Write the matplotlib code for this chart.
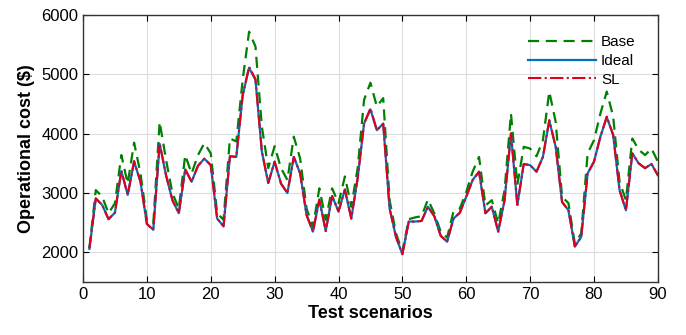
import matplotlib
matplotlib.use('Agg')
import matplotlib.pyplot as plt

plt.rcParams['font.family'] = ['Liberation Sans', 'DejaVu Sans']

scenarios = list(range(1, 91))

base = [2070, 3050, 2940, 2660, 2830, 3640, 3160, 3850, 3330, 2550,
        2480, 4200, 3560, 3000, 2740, 3640, 3330, 3640, 3840, 3670,
        2660, 2550, 3920, 3870, 4910, 5720, 5470, 4120, 3420, 3790,
        3420, 3220, 3950, 3580, 2740, 2430, 3080, 2550, 3080, 2830,
        3280, 2770, 3420, 4570, 4860, 4460, 4600, 2880, 2320, 2010,
        2560, 2590, 2610, 2890, 2660, 2350, 2250, 2690, 2740, 3020,
        3360, 3610, 2790, 2880, 2490, 3050, 4340, 3140, 3780, 3750,
        3620, 3890, 4710, 4200, 2940, 2830, 2150, 2320, 3670, 3890,
        4340, 4710, 4290, 3190, 2880, 3920, 3730, 3640, 3750, 3530]

ideal = [2060, 2910, 2800, 2560, 2670, 3370, 2970, 3530, 3190, 2480,
         2380, 3830, 3300, 2880, 2660, 3400, 3190, 3460, 3580, 3470,
         2570, 2440, 3620, 3610, 4650, 5110, 4910, 3700, 3170, 3530,
         3160, 3000, 3610, 3330, 2630, 2350, 2890, 2360, 2950, 2690,
         3060, 2570, 3250, 4170, 4410, 4060, 4170, 2740, 2260, 1970,
         2520, 2520, 2530, 2770, 2610, 2280, 2180, 2570, 2670, 2940,
         3220, 3360, 2660, 2770, 2350, 2880, 4000, 2800, 3490, 3470,
         3360, 3610, 4220, 3780, 2850, 2710, 2100, 2260, 3330, 3530,
         3950, 4280, 3980, 3050, 2710, 3670, 3500, 3420, 3490, 3300]

sl = [2070, 2910, 2800, 2560, 2670, 3380, 2970, 3540, 3190, 2480,
      2380, 3840, 3300, 2880, 2660, 3400, 3190, 3460, 3580, 3470,
      2570, 2440, 3620, 3610, 4650, 5130, 4920, 3700, 3170, 3530,
      3160, 3000, 3610, 3330, 2630, 2350, 2890, 2360, 2950, 2690,
      3060, 2570, 3250, 4170, 4430, 4060, 4170, 2740, 2260, 1970,
      2520, 2520, 2530, 2770, 2610, 2280, 2180, 2570, 2670, 2940,
      3220, 3360, 2660, 2770, 2350, 2880, 4010, 2800, 3490, 3470,
      3360, 3610, 4230, 3780, 2850, 2710, 2100, 2260, 3330, 3530,
      3950, 4290, 3980, 3050, 2710, 3670, 3500, 3420, 3490, 3300]

fig = plt.figure(figsize=(6.86, 3.35), dpi=100)
ax = fig.add_axes([0.121, 0.158, 0.838, 0.797])

ax.plot(scenarios, base, '--', color='#008000', lw=1.6, dashes=(5, 3), label='Base')
ax.plot(scenarios, ideal, '-', color='#0072BD', lw=1.6, label='Ideal')
ax.plot(scenarios, sl, '-.', color='#E0001B', lw=1.5, label='SL')

ax.set_xlim(0, 90)
ax.set_ylim(1500, 6000)
ax.set_xticks(range(0, 91, 10))
ax.set_yticks([2000, 3000, 4000, 5000, 6000])
ax.grid(True, color='#dcdcdc', lw=0.8)
ax.tick_params(direction='in', top=True, right=True, labelsize=12, length=4)
for s in ax.spines.values():
    s.set_color('#333333')
    s.set_linewidth(1.0)

ax.set_xlabel('Test scenarios', fontsize=13, fontweight='bold', labelpad=2)
ax.set_ylabel('Operational cost ($)', fontsize=13, fontweight='bold')

leg = ax.legend(loc='upper right', frameon=False, fontsize=11, handlelength=4.5,
                handletextpad=0.3, labelspacing=0.3, bbox_to_anchor=(0.985, 0.975))

fig.savefig('out.png', dpi=100)
